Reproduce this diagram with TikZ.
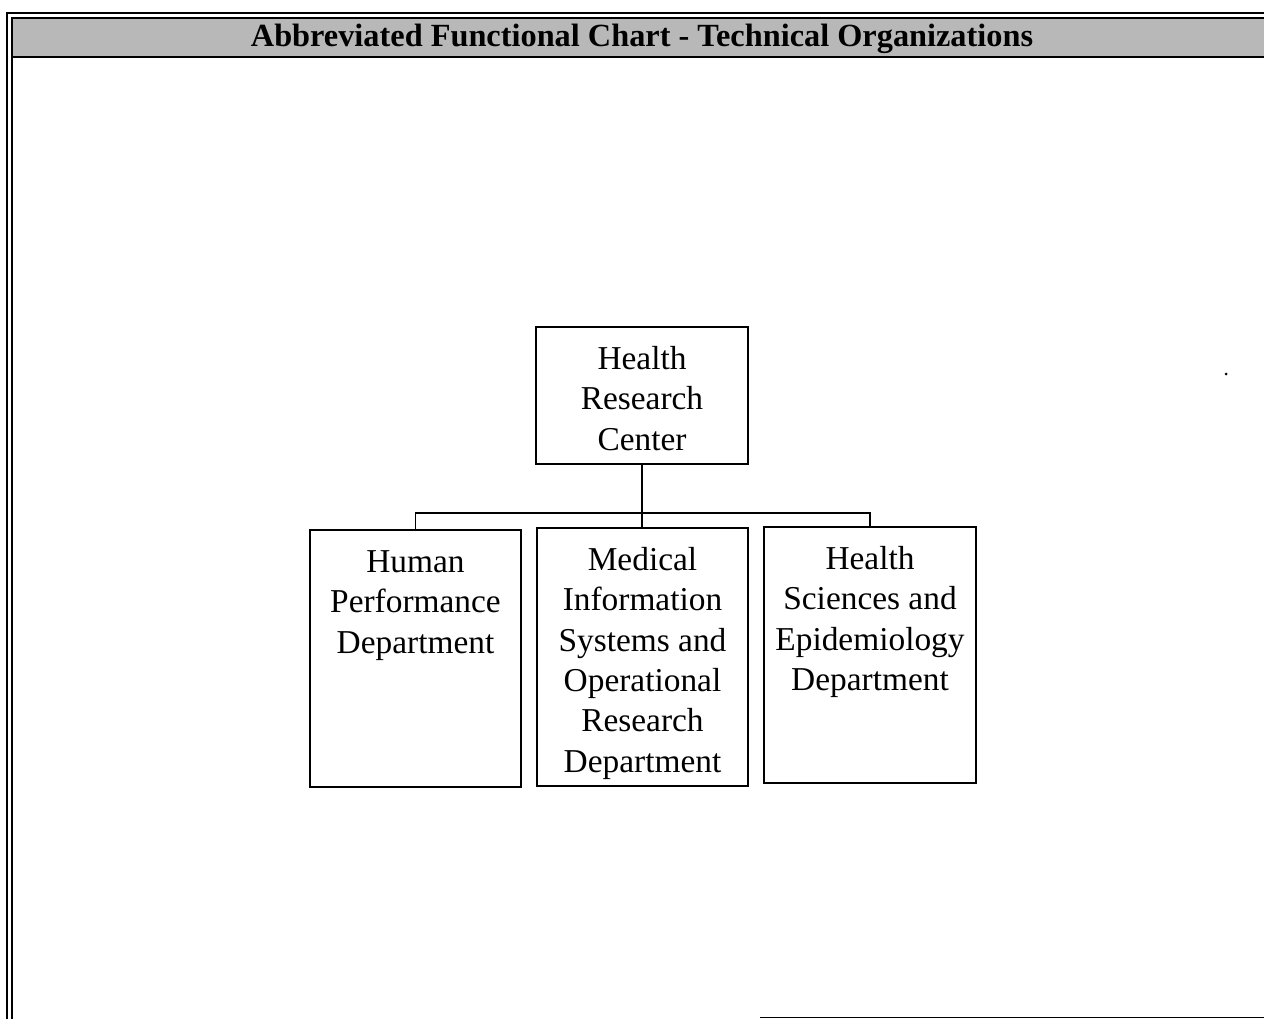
\documentclass[tikz,border=0pt]{standalone}
\usepackage{fontspec}
\setmainfont{Liberation Serif}

% text block of an org box, set from the top
\newcommand{\orgtext}[3]{\parbox[c][#1][t]{#2}{\centering\rule{0pt}{24pt}#3}}

\begin{document}
\begin{tikzpicture}[x=0.02cm, y=-0.02cm,
    orgbox/.style={draw, line width=1pt, inner sep=0pt, font=\fontsize{19}{23}\selectfont},
    link/.style={line width=1pt},
    frame/.style={line width=1.5pt}]
    \useasboundingbox (0,0) rectangle (1264,1019);

    % Frame and title bar
    \fill[black!28] (12,18) rectangle (1264,57);
    \draw[frame] (7,1019) -- (7,13) -- (1264,13);
    \draw[frame] (12,1019) -- (12,18) -- (1264,18);
    \draw[frame] (12,57) -- (1264,57);
    \draw[thin] (760,1017) -- (1264,1017);
    \node[font=\fontsize{18.4}{22}\selectfont\bfseries] (title) at (642,39)
        {Abbreviated Functional Chart - Technical Organizations};

    % Center and departments
    \node[orgbox] (hrc) at (642,395.5) {\orgtext{2.74cm}{4.24cm}{Health\\Research\\Center}};
    \node[orgbox] (hpd) at (415.5,658.5) {\orgtext{5.14cm}{4.22cm}{Human\\Performance\\Department}};
    \node[orgbox] (misord) at (642.5,657) {\orgtext{5.16cm}{4.22cm}{Medical\\Information\\Systems and\\Operational\\Research\\Department}};
    \node[orgbox] (hsed) at (870,655) {\orgtext{5.12cm}{4.24cm}{Health\\Sciences and\\Epidemiology\\Department}};

    % Connectors
    \coordinate (bus) at (642,513);
    \draw[link] (hrc.south) -- (hrc.south |- misord.north);
    \draw[link] (hpd.north) -- (hpd.north |- bus) -- (hsed.north |- bus) -- (hsed.north);

    % stray dot
    \fill (1226,374) circle (1.5);
\end{tikzpicture}
\end{document}
